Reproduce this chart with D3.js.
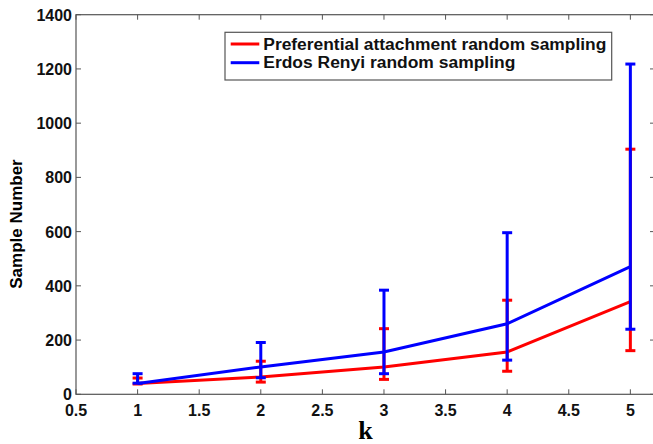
<!DOCTYPE html>
<html lang="en">
<head>
  <meta charset="UTF-8">
  <script src="https://d3js.org/d3.v7.min.js"></script>
  <title>Sample Number vs k</title>
  <style>
    body { margin: 0; background: #fff; }
    text { font-family: "Liberation Sans", Arial, sans-serif; }
  </style>
</head>
<body>
<script>
  // data
  const ks = [1, 2, 3, 4, 5]
  const paMean  = [40, 64, 101, 156, 342]
  const paLow   = [38, 45, 55, 85, 161]
  const paHigh  = [60, 122, 242, 347, 904]
  const erMean  = [40, 101, 156, 260, 471]
  const erLow   = [41, 61, 76, 126, 240]
  const erHigh  = [76, 191, 384, 596, 1218]
  const xTicks = [0.5, 1, 1.5, 2, 2.5, 3, 3.5, 4, 4.5, 5]
  const yTicks = [0, 200, 400, 600, 800, 1000, 1200, 1400]
  const legendNames = ["Preferential attachment random sampling", "Erdos Renyi random sampling"]

  const width = 653, height = 444
  const mLeft = 76, mRight = 655, mTop = 14.7, mBottom = 394.3

  const svg = d3.select("body").append("svg")
    .attr("width", width).attr("height", height)

  const x = d3.scaleLinear().domain([0.5, 5.2]).range([mLeft, mRight])
  const y = d3.scaleLinear().domain([0, 1400]).range([mBottom, mTop])

  // frame
  svg.append("rect")
    .attr("x", mLeft).attr("y", mTop)
    .attr("width", mRight - mLeft).attr("height", mBottom - mTop)
    .attr("fill", "none").attr("stroke", "#555").attr("stroke-width", 1.2)

  // ticks (inside, on all four sides)
  const tickColor = "#555"
  xTicks.forEach(t => {
    svg.append("line").attr("x1", x(t)).attr("x2", x(t))
      .attr("y1", mBottom).attr("y2", mBottom - 5).attr("stroke", tickColor)
    svg.append("line").attr("x1", x(t)).attr("x2", x(t))
      .attr("y1", mTop).attr("y2", mTop + 5).attr("stroke", tickColor)
    svg.append("text").attr("x", x(t)).attr("y", mBottom + 22)
      .attr("text-anchor", "middle").attr("font-size", 16).attr("font-weight", "bold")
      .attr("fill", "#111").text(t)
  })
  yTicks.forEach(t => {
    svg.append("line").attr("x1", mLeft).attr("x2", mLeft + 5)
      .attr("y1", y(t)).attr("y2", y(t)).attr("stroke", tickColor)
    svg.append("line").attr("x1", mRight).attr("x2", mRight - 5)
      .attr("y1", y(t)).attr("y2", y(t)).attr("stroke", tickColor)
    svg.append("text").attr("x", mLeft - 4).attr("y", y(t) + 6)
      .attr("text-anchor", "end").attr("font-size", 16).attr("font-weight", "bold")
      .attr("fill", "#111").text(t)
  })

  // axis labels
  svg.append("text").attr("x", (mLeft + mRight) / 2).attr("y", 439)
    .attr("text-anchor", "middle").attr("font-size", 26).attr("font-weight", "bold")
    .style("font-family", "'Liberation Serif', 'Times New Roman', serif")
    .text("k")
  svg.append("text")
    .attr("transform", "translate(22," + 224 + ") rotate(-90)")
    .attr("text-anchor", "middle").attr("font-size", 17).attr("font-weight", "bold")
    .text("Sample Number")

  const series = [
    { mean: paMean, low: paLow, high: paHigh, color: "#ff0000" },
    { mean: erMean, low: erLow, high: erHigh, color: "#0000ff" }
  ]

  const line = d3.line().x(d => x(d[0])).y(d => y(d[1]))

  series.forEach(s => {
    const pts = ks.map((k, i) => [k, s.mean[i]])
    svg.append("path").datum(pts).attr("d", line)
      .attr("fill", "none").attr("stroke", s.color).attr("stroke-width", 3)
    const g = svg.append("g").attr("stroke", s.color).attr("stroke-width", 3)
    ks.forEach((k, i) => {
      g.append("line").attr("x1", x(k)).attr("x2", x(k))
        .attr("y1", y(s.low[i])).attr("y2", y(s.high[i]))
      ;[s.low[i], s.high[i]].forEach(v => {
        g.append("line").attr("x1", x(k) - 5).attr("x2", x(k) + 5)
          .attr("y1", y(v)).attr("y2", y(v))
      })
    })
  })

  // legend
  const lg = svg.append("g")
  lg.append("rect").attr("x", 225).attr("y", 32.3).attr("width", 386.7).attr("height", 47.7)
    .attr("fill", "#fff").attr("stroke", "#555").attr("stroke-width", 1.2)
  const legendWidths = [343, 252]
  legendNames.forEach((name, i) => {
    const ly = 44 + i * 18.7
    lg.append("line").attr("x1", 230.7).attr("x2", 259.3).attr("y1", ly).attr("y2", ly)
      .attr("stroke", series[i].color).attr("stroke-width", 3)
    lg.append("text").attr("x", 263.3).attr("y", ly + 5.5)
      .attr("font-size", 16).attr("font-weight", "bold").attr("fill", "#111")
      .attr("textLength", legendWidths[i]).attr("lengthAdjust", "spacingAndGlyphs")
      .text(name)
  })
</script>
</body>
</html>
